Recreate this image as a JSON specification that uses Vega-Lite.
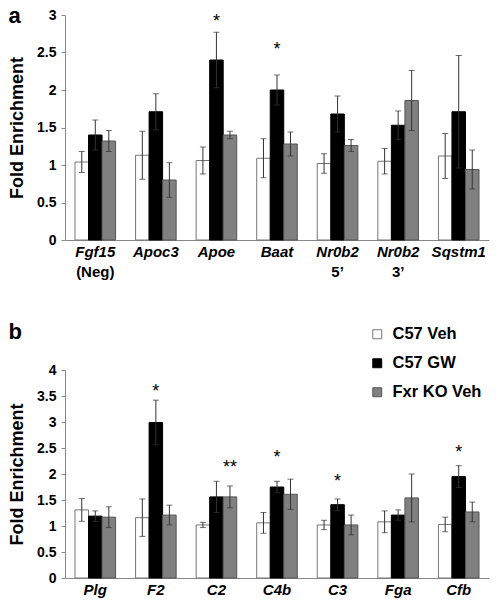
{
  "$schema": "https://vega.github.io/schema/vega-lite/v6.json",
  "padding": {"left": 8, "top": 5, "right": 5, "bottom": 2},
  "background": "#ffffff",
  "config": {"font": "Liberation Sans", "view": {"stroke": null}, "concat": {"spacing": 41}},
  "datasets": {
    "a": [
      {"gene": "Fgf15 (Neg)", "grp": "C57 Veh", "v": 1.04, "lo": 0.90, "hi": 1.18},
      {"gene": "Fgf15 (Neg)", "grp": "C57 GW", "v": 1.40, "lo": 1.20, "hi": 1.60},
      {"gene": "Fgf15 (Neg)", "grp": "Fxr KO Veh", "v": 1.32, "lo": 1.18, "hi": 1.46},
      {"gene": "Apoc3", "grp": "C57 Veh", "v": 1.13, "lo": 0.81, "hi": 1.45},
      {"gene": "Apoc3", "grp": "C57 GW", "v": 1.71, "lo": 1.47, "hi": 1.95},
      {"gene": "Apoc3", "grp": "Fxr KO Veh", "v": 0.80, "lo": 0.57, "hi": 1.03},
      {"gene": "Apoe", "grp": "C57 Veh", "v": 1.06, "lo": 0.88, "hi": 1.24},
      {"gene": "Apoe", "grp": "C57 GW", "v": 2.40, "lo": 2.03, "hi": 2.77},
      {"gene": "Apoe", "grp": "Fxr KO Veh", "v": 1.40, "lo": 1.35, "hi": 1.45},
      {"gene": "Baat", "grp": "C57 Veh", "v": 1.09, "lo": 0.83, "hi": 1.35},
      {"gene": "Baat", "grp": "C57 GW", "v": 2.00, "lo": 1.80, "hi": 2.20},
      {"gene": "Baat", "grp": "Fxr KO Veh", "v": 1.28, "lo": 1.12, "hi": 1.44},
      {"gene": "Nr0b2 5’", "grp": "C57 Veh", "v": 1.02, "lo": 0.89, "hi": 1.15},
      {"gene": "Nr0b2 5’", "grp": "C57 GW", "v": 1.68, "lo": 1.44, "hi": 1.92},
      {"gene": "Nr0b2 5’", "grp": "Fxr KO Veh", "v": 1.26, "lo": 1.18, "hi": 1.34},
      {"gene": "Nr0b2 3’", "grp": "C57 Veh", "v": 1.05, "lo": 0.88, "hi": 1.22},
      {"gene": "Nr0b2 3’", "grp": "C57 GW", "v": 1.53, "lo": 1.34, "hi": 1.72},
      {"gene": "Nr0b2 3’", "grp": "Fxr KO Veh", "v": 1.86, "lo": 1.46, "hi": 2.26},
      {"gene": "Sqstm1", "grp": "C57 Veh", "v": 1.12, "lo": 0.82, "hi": 1.42},
      {"gene": "Sqstm1", "grp": "C57 GW", "v": 1.71, "lo": 0.96, "hi": 2.46},
      {"gene": "Sqstm1", "grp": "Fxr KO Veh", "v": 0.94, "lo": 0.68, "hi": 1.20}
    ],
    "sa": [
      {"gene": "Apoe", "grp": "C57 GW", "star": "*", "sy": 2.98},
      {"gene": "Baat", "grp": "C57 GW", "star": "*", "sy": 2.60}
    ],
    "la": [
      {"gene": "Fgf15 (Neg)", "line2": "(Neg)"},
      {"gene": "Nr0b2 5’", "line2": "5’"},
      {"gene": "Nr0b2 3’", "line2": "3’"}
    ],
    "b": [
      {"gene": "Plg", "grp": "C57 Veh", "v": 1.31, "lo": 1.09, "hi": 1.53},
      {"gene": "Plg", "grp": "C57 GW", "v": 1.19, "lo": 1.09, "hi": 1.29},
      {"gene": "Plg", "grp": "Fxr KO Veh", "v": 1.17, "lo": 0.97, "hi": 1.37},
      {"gene": "F2", "grp": "C57 Veh", "v": 1.16, "lo": 0.80, "hi": 1.52},
      {"gene": "F2", "grp": "C57 GW", "v": 2.99, "lo": 2.56, "hi": 3.42},
      {"gene": "F2", "grp": "Fxr KO Veh", "v": 1.21, "lo": 1.02, "hi": 1.40},
      {"gene": "C2", "grp": "C57 Veh", "v": 1.02, "lo": 0.97, "hi": 1.07},
      {"gene": "C2", "grp": "C57 GW", "v": 1.56, "lo": 1.26, "hi": 1.86},
      {"gene": "C2", "grp": "Fxr KO Veh", "v": 1.56, "lo": 1.35, "hi": 1.77},
      {"gene": "C4b", "grp": "C57 Veh", "v": 1.06, "lo": 0.86, "hi": 1.26},
      {"gene": "C4b", "grp": "C57 GW", "v": 1.75, "lo": 1.64, "hi": 1.86},
      {"gene": "C4b", "grp": "Fxr KO Veh", "v": 1.61, "lo": 1.32, "hi": 1.90},
      {"gene": "C3", "grp": "C57 Veh", "v": 1.02, "lo": 0.93, "hi": 1.11},
      {"gene": "C3", "grp": "C57 GW", "v": 1.41, "lo": 1.30, "hi": 1.52},
      {"gene": "C3", "grp": "Fxr KO Veh", "v": 1.02, "lo": 0.83, "hi": 1.21},
      {"gene": "Fga", "grp": "C57 Veh", "v": 1.08, "lo": 0.87, "hi": 1.29},
      {"gene": "Fga", "grp": "C57 GW", "v": 1.21, "lo": 1.11, "hi": 1.31},
      {"gene": "Fga", "grp": "Fxr KO Veh", "v": 1.54, "lo": 1.08, "hi": 2.00},
      {"gene": "Cfb", "grp": "C57 Veh", "v": 1.03, "lo": 0.89, "hi": 1.17},
      {"gene": "Cfb", "grp": "C57 GW", "v": 1.95, "lo": 1.74, "hi": 2.16},
      {"gene": "Cfb", "grp": "Fxr KO Veh", "v": 1.27, "lo": 1.08, "hi": 1.46}
    ],
    "sb": [
      {"gene": "F2", "grp": "C57 GW", "star": "*", "sy": 3.68},
      {"gene": "C2", "grp": "Fxr KO Veh", "star": "**", "sy": 2.21},
      {"gene": "C4b", "grp": "C57 GW", "star": "*", "sy": 2.40},
      {"gene": "C3", "grp": "C57 GW", "star": "*", "sy": 1.95},
      {"gene": "Cfb", "grp": "C57 GW", "star": "*", "sy": 2.50}
    ]
  },
  "vconcat": [
    {
      "width": 424,
      "height": 225,
      "title": {"text": "a", "anchor": "start", "frame": "bounds", "fontSize": 22, "fontWeight": "bold", "color": "#000", "offset": -20},
      "layer": [
        {
          "data": {"name": "a"},
          "mark": {"type": "bar", "strokeWidth": 1},
          "encoding": {
            "x": {"field": "gene", "type": "nominal", "sort": null,
              "scale": {"domain": ["Fgf15 (Neg)", "Apoc3", "Apoe", "Baat", "Nr0b2 5’", "Nr0b2 3’", "Sqstm1"], "paddingInner": 0.33, "paddingOuter": 0.165},
              "axis": {"title": null, "labelExpr": "split(datum.label, ' ')[0]", "labelFontSize": 15, "labelFontWeight": "bold", "labelFontStyle": "italic", "labelColor": "#000", "ticks": false, "domainColor": "#888", "labelPadding": 4, "labelAngle": 0}},
            "xOffset": {"field": "grp", "type": "nominal", "scale": {"domain": ["C57 Veh", "C57 GW", "Fxr KO Veh"], "paddingInner": 0, "paddingOuter": 0}},
            "y": {"field": "v", "type": "quantitative", "scale": {"domain": [0, 3], "nice": false},
              "axis": {"title": "Fold Enrichment", "titleFontSize": 18, "titleFontWeight": "bold", "titleColor": "#000", "titlePadding": 10, "tickCount": 7, "labelExpr": "datum.value % 1 === 0 ? format(datum.value, 'd') : format(datum.value, '.1f')", "labelOverlap": false, "labelFontSize": 14, "labelFontWeight": "bold", "labelColor": "#000", "domainColor": "#888", "tickColor": "#888", "tickSize": 4, "grid": false, "labelPadding": 5}},
            "fill": {"field": "grp", "type": "nominal", "scale": {"domain": ["C57 Veh", "C57 GW", "Fxr KO Veh"], "range": ["#ffffff", "#000000", "#808080"]}, "legend": null},
            "stroke": {"field": "grp", "type": "nominal", "scale": {"domain": ["C57 Veh", "C57 GW", "Fxr KO Veh"], "range": ["#777777", "#000000", "#555555"]}, "legend": null}
          }
        },
        {
          "data": {"name": "a"},
          "mark": {"type": "rule", "color": "#333333", "strokeWidth": 1},
          "encoding": {
            "x": {"field": "gene", "type": "nominal", "sort": null},
            "xOffset": {"field": "grp", "type": "nominal"},
            "y": {"field": "lo", "type": "quantitative"},
            "y2": {"field": "hi"}
          }
        },
        {
          "data": {"name": "a"},
          "mark": {"type": "tick", "color": "#333333", "size": 6, "thickness": 1, "orient": "horizontal"},
          "encoding": {
            "x": {"field": "gene", "type": "nominal", "sort": null},
            "xOffset": {"field": "grp", "type": "nominal"},
            "y": {"field": "hi", "type": "quantitative"}
          }
        },
        {
          "data": {"name": "a"},
          "mark": {"type": "tick", "color": "#333333", "size": 6, "thickness": 1, "orient": "horizontal"},
          "encoding": {
            "x": {"field": "gene", "type": "nominal", "sort": null},
            "xOffset": {"field": "grp", "type": "nominal"},
            "y": {"field": "lo", "type": "quantitative"}
          }
        },
        {
          "data": {"name": "sa"},
          "mark": {"type": "text", "fontSize": 18, "dy": 5, "color": "#000"},
          "encoding": {
            "x": {"field": "gene", "type": "nominal", "sort": null},
            "xOffset": {"field": "grp", "type": "nominal"},
            "y": {"field": "sy", "type": "quantitative"},
            "text": {"field": "star"}
          }
        },
        {
          "data": {"name": "la"},
          "mark": {"type": "text", "fontSize": 15, "fontWeight": "bold", "baseline": "top", "dy": 25, "color": "#000"},
          "encoding": {
            "x": {"field": "gene", "type": "nominal", "sort": null},
            "y": {"datum": 0},
            "text": {"field": "line2"}
          }
        }
      ]
    },
    {
      "width": 424,
      "height": 208,
      "title": {"text": "b", "anchor": "start", "frame": "bounds", "fontSize": 22, "fontWeight": "bold", "color": "#000", "offset": -18},
      "layer": [
        {
          "data": {"name": "b"},
          "mark": {"type": "bar", "strokeWidth": 1},
          "encoding": {
            "x": {"field": "gene", "type": "nominal", "sort": null,
              "scale": {"domain": ["Plg", "F2", "C2", "C4b", "C3", "Fga", "Cfb"], "paddingInner": 0.33, "paddingOuter": 0.165},
              "axis": {"title": null, "labelFontSize": 15, "labelFontWeight": "bold", "labelFontStyle": "italic", "labelColor": "#000", "ticks": false, "domainColor": "#888", "labelPadding": 4, "labelAngle": 0}},
            "xOffset": {"field": "grp", "type": "nominal", "scale": {"domain": ["C57 Veh", "C57 GW", "Fxr KO Veh"], "paddingInner": 0, "paddingOuter": 0}},
            "y": {"field": "v", "type": "quantitative", "scale": {"domain": [0, 4], "nice": false},
              "axis": {"title": "Fold Enrichment", "titleFontSize": 18, "titleFontWeight": "bold", "titleColor": "#000", "titlePadding": 10, "tickCount": 9, "labelExpr": "datum.value % 1 === 0 ? format(datum.value, 'd') : format(datum.value, '.1f')", "labelOverlap": false, "labelFontSize": 14, "labelFontWeight": "bold", "labelColor": "#000", "domainColor": "#888", "tickColor": "#888", "tickSize": 4, "grid": false, "labelPadding": 5}},
            "fill": {"field": "grp", "type": "nominal", "scale": {"domain": ["C57 Veh", "C57 GW", "Fxr KO Veh"], "range": ["#ffffff", "#000000", "#808080"]},
              "legend": {"orient": "none", "legendX": 304, "legendY": -44, "title": null, "symbolType": "square", "symbolSize": 80, "symbolStrokeWidth": 1, "labelFontSize": 16.5, "labelFontWeight": "bold", "labelColor": "#000", "rowPadding": 12, "labelOffset": 7, "padding": 0}},
            "stroke": {"field": "grp", "type": "nominal", "scale": {"domain": ["C57 Veh", "C57 GW", "Fxr KO Veh"], "range": ["#777777", "#000000", "#555555"]},
              "legend": {"orient": "none", "legendX": 304, "legendY": -44, "title": null, "symbolType": "square", "symbolSize": 80, "symbolStrokeWidth": 1, "labelFontSize": 16.5, "labelFontWeight": "bold", "labelColor": "#000", "rowPadding": 12, "labelOffset": 7, "padding": 0}}
          }
        },
        {
          "data": {"name": "b"},
          "mark": {"type": "rule", "color": "#333333", "strokeWidth": 1},
          "encoding": {
            "x": {"field": "gene", "type": "nominal", "sort": null},
            "xOffset": {"field": "grp", "type": "nominal"},
            "y": {"field": "lo", "type": "quantitative"},
            "y2": {"field": "hi"}
          }
        },
        {
          "data": {"name": "b"},
          "mark": {"type": "tick", "color": "#333333", "size": 6, "thickness": 1, "orient": "horizontal"},
          "encoding": {
            "x": {"field": "gene", "type": "nominal", "sort": null},
            "xOffset": {"field": "grp", "type": "nominal"},
            "y": {"field": "hi", "type": "quantitative"}
          }
        },
        {
          "data": {"name": "b"},
          "mark": {"type": "tick", "color": "#333333", "size": 6, "thickness": 1, "orient": "horizontal"},
          "encoding": {
            "x": {"field": "gene", "type": "nominal", "sort": null},
            "xOffset": {"field": "grp", "type": "nominal"},
            "y": {"field": "lo", "type": "quantitative"}
          }
        },
        {
          "data": {"name": "sb"},
          "mark": {"type": "text", "fontSize": 18, "dy": 5, "color": "#000"},
          "encoding": {
            "x": {"field": "gene", "type": "nominal", "sort": null},
            "xOffset": {"field": "grp", "type": "nominal"},
            "y": {"field": "sy", "type": "quantitative"},
            "text": {"field": "star"}
          }
        }
      ]
    }
  ],
  "resolve": {"scale": {"fill": "independent", "stroke": "independent"}, "legend": {"fill": "independent", "stroke": "independent"}}
}
